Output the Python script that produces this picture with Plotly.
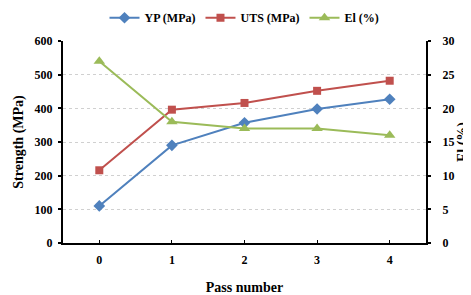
import plotly.graph_objects as go

passes = [0, 1, 2, 3, 4]
yp = [110, 290, 357, 398, 427]
uts = [216, 396, 416, 452, 482]
el = [27, 18, 17, 17, 16]

font = dict(family="Liberation Serif", size=12, color="black")

fig = go.Figure()
fig.add_trace(go.Scatter(x=passes, y=yp, name="<b>YP (MPa)</b>", mode="lines+markers",
                         line=dict(color="#4F81BD", width=2),
                         marker=dict(symbol="diamond", size=9, color="#4F81BD")))
fig.add_trace(go.Scatter(x=passes, y=uts, name="<b>UTS (MPa)</b>", mode="lines+markers",
                         line=dict(color="#C0504D", width=2),
                         marker=dict(symbol="square", size=8, color="#C0504D")))
fig.add_trace(go.Scatter(x=passes, y=el, name="<b>El (%)</b>", mode="lines+markers",
                         line=dict(color="#9BBB59", width=2),
                         marker=dict(symbol="triangle-up", size=10, color="#9BBB59"),
                         yaxis="y2"))

# page body has an 8px default margin; figure sized to compensate
fig.update_layout(
    width=463, height=287,
    margin=dict(l=55, r=45, t=33, b=52, autoexpand=False),
    paper_bgcolor="white", plot_bgcolor="white",
    font=font,
    showlegend=True,
    legend=dict(orientation="h", x=0.5, xanchor="center", y=1.115, yanchor="middle",
                font=dict(family="Liberation Serif", size=12),
                tracegroupgap=0),
    xaxis=dict(range=[-0.5, 4.5], tickvals=passes, ticktext=[f"<b>{p}</b>" for p in passes],
               showgrid=False, zeroline=False, showline=True, linecolor="black", linewidth=2,
               ticks="inside", ticklen=3, tickcolor="black", tickwidth=1, automargin=False,
               ticklabelstandoff=5,
               title=dict(text="<b>Pass number</b>", standoff=24)),
    yaxis=dict(range=[0, 600], tickvals=[0, 100, 200, 300, 400, 500, 600],
               ticktext=[f"<b>{v}</b>" for v in [0, 100, 200, 300, 400, 500, 600]],
               showgrid=True, gridcolor="#D0D0D0", griddash="dot", gridwidth=1,
               zeroline=False, showline=True, linecolor="black", linewidth=2,
               ticks="outside", ticklen=3, tickcolor="black", tickwidth=2, automargin=False,
               ticklabelstandoff=3,
               title=dict(text="<b>Strength (MPa)</b>", standoff=8)),
    yaxis2=dict(range=[0, 30], tickvals=[0, 5, 10, 15, 20, 25, 30],
                ticktext=[f"<b>{v}</b>" for v in [0, 5, 10, 15, 20, 25, 30]],
                overlaying="y", side="right", showgrid=False, zeroline=False,
                showline=True, linecolor="black", linewidth=2,
                ticks="outside", ticklen=3, tickcolor="black", tickwidth=2, automargin=False,
                ticklabelstandoff=9,
                title=dict(text="<b>El (%)</b>", standoff=5)),
)

fig.write_html("out.html")
